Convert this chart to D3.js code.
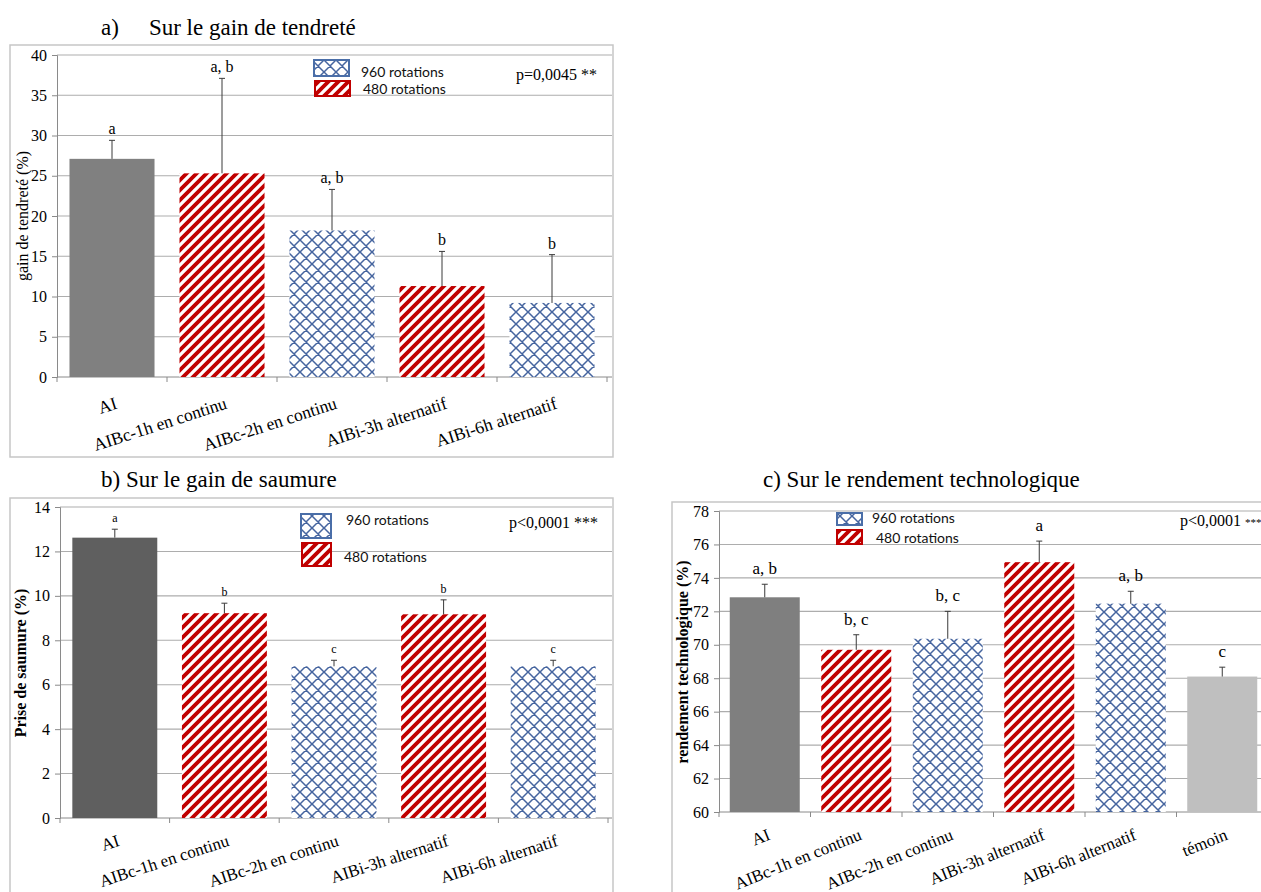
<!DOCTYPE html>
<html><head><meta charset="utf-8">
<script src="https://cdn.jsdelivr.net/npm/d3@7"></script>
<style>body{margin:0;background:#fff}svg{display:block}</style>
</head><body>
<script>
// ---------- DATA ----------
const categories5 = ["AI","AIBc-1h en continu","AIBc-2h en continu","AIBi-3h alternatif","AIBi-6h alternatif"];
const categories6 = ["AI","AIBc-1h en continu","AIBc-2h en continu","AIBi-3h alternatif","AIBi-6h alternatif","témoin"];
const groups5 = ["AI","480","960","480","960"];
const groups6 = ["AI","480","960","480","960","témoin"];
const legendLabels = ["960 rotations","480 rotations"];

// a) gain de tendreté
const tendreteValues = [27.1, 25.3, 18.2, 11.3, 9.2];
const tendreteErrTop = [29.4, 37.1, 23.3, 15.6, 15.2];
const tendreteLetters = ["a","a, b","a, b","b","b"];
const tendreteTicks = [0,5,10,15,20,25,30,35,40];

// b) gain de saumure
const saumureValues = [12.62, 9.22, 6.83, 9.17, 6.83];
const saumureErrTop = [13.0, 9.67, 7.1, 9.82, 7.1];
const saumureLetters = ["a","b","c","b","c"];
const saumureTicks = [0,2,4,6,8,10,12,14];

// c) rendement technologique
const rendementValues = [72.84, 69.7, 70.36, 74.94, 72.46, 68.1];
const rendementErrTop = [73.62, 70.6, 72.0, 76.2, 73.2, 68.66];
const rendementLetters = ["a, b","b, c","b, c","a","a, b","c"];
const rendementTicks = [60,62,64,66,68,70,72,74,76,78];

// ---------- DRAW ----------
const W = 1261, H = 892;
const svg = d3.select("body").append("svg").attr("width", W).attr("height", H);
const serif = "'Liberation Serif','Times New Roman',serif";
const sans = "Lato,'Open Sans',sans-serif";

const defs = svg.append("defs");
const pS = defs.append("pattern").attr("id","stripes").attr("patternUnits","userSpaceOnUse")
  .attr("width",10).attr("height",10);
pS.append("rect").attr("width",10).attr("height",10).attr("fill","#fff");
pS.append("path").attr("d","M-2,2 L2,-2 M0,10 L10,0 M8,12 L12,8")
  .attr("stroke","#c00000").attr("stroke-width",3.8);
const pX = defs.append("pattern").attr("id","cross").attr("patternUnits","userSpaceOnUse")
  .attr("width",12).attr("height",12);
pX.append("rect").attr("width",12).attr("height",12).attr("fill","#fff");
pX.append("path").attr("d","M0,0 L12,12 M12,0 L0,12 M-1,1 L1,-1 M11,13 L13,11 M-1,11 L1,13 M11,-1 L13,1")
  .attr("stroke","#46659f").attr("stroke-width",1.5);

function drawPanel(cfg) {
  const g = svg.append("g");
  g.append("rect").attr("x",cfg.frame[0]).attr("y",cfg.frame[1]).attr("width",cfg.frame[2]).attr("height",cfg.frame[3])
    .attr("fill","none").attr("stroke","#c6c6c6").attr("stroke-width",1.5);
  const t = g.append("text").attr("x",cfg.titlePos[0]).attr("y",cfg.titlePos[1])
    .attr("font-family",serif).attr("font-size",23).attr("fill","#000");
  cfg.title.forEach((s,i)=> t.append("tspan").attr("dx", i? cfg.titleGap : 0).text(s));

  const x = d3.scaleBand().domain(cfg.cats).range([cfg.left, cfg.right]).paddingInner(cfg.pad).paddingOuter(cfg.pad/2);
  const y = d3.scaleLinear().domain(cfg.domain).range([cfg.bottom, cfg.top]);

  g.append("g").selectAll("line").data(cfg.ticks.filter(d=>d!==cfg.domain[0])).join("line")
    .attr("x1",cfg.left).attr("x2",cfg.gridRight).attr("y1",d=>y(d)).attr("y2",d=>y(d))
    .attr("stroke","#adadad").attr("stroke-width",1.1);

  const ya = g.append("g").attr("transform",`translate(${cfg.left},0)`)
    .call(d3.axisLeft(y).tickValues(cfg.ticks).tickSize(5).tickPadding(5).tickFormat(d3.format("d")));
  ya.attr("font-family",serif);
  ya.select(".domain").attr("stroke","#8a8a8a");
  ya.selectAll(".tick line").attr("stroke","#8a8a8a");
  ya.selectAll("text").attr("font-family",serif).attr("font-size",16).attr("fill","#000");

  const xa = g.append("g").attr("transform",`translate(0,${cfg.bottom})`)
    .call(d3.axisBottom(x).tickSize(0).tickFormat(""));
  xa.select(".domain").attr("stroke","#8a8a8a").attr("d",`M${cfg.left},0H${cfg.gridRight}`);
  const step = x.step();
  g.append("g").selectAll("line").data(d3.range(cfg.cats.length+1)).join("line")
    .attr("x1",i=>cfg.left+i*step).attr("x2",i=>cfg.left+i*step)
    .attr("y1",cfg.bottom).attr("y2",cfg.bottom+5).attr("stroke","#8a8a8a");

  const fillFor = (grp)=> grp==="480" ? "url(#stripes)" : grp==="960" ? "url(#cross)" : grp==="AI" ? cfg.aiColor : "#bfbfbf";
  g.append("g").selectAll("rect").data(cfg.values).join("rect")
    .attr("x",(d,i)=>x(cfg.cats[i])).attr("width",x.bandwidth())
    .attr("y",d=>y(d)).attr("height",d=>y(cfg.domain[0])-y(d))
    .attr("fill",(d,i)=>fillFor(cfg.groups[i]));

  const eb = g.append("g").attr("stroke","#3a3a3a").attr("stroke-width",1);
  cfg.errTop.forEach((e,i)=>{
    const cx = x(cfg.cats[i]) + x.bandwidth()/2;
    eb.append("line").attr("x1",cx).attr("x2",cx).attr("y1",y(cfg.values[i])).attr("y2",y(e));
    eb.append("line").attr("x1",cx-3).attr("x2",cx+3).attr("y1",y(e)).attr("y2",y(e));
  });

  g.append("g").selectAll("text").data(cfg.letters).join("text")
    .attr("x",(d,i)=>x(cfg.cats[i]) + x.bandwidth()/2)
    .attr("y",(d,i)=>y(cfg.errTop[i]) - cfg.letterGap)
    .attr("text-anchor","middle").attr("font-family",serif).attr("font-size",cfg.letterSize).text(d=>d);

  g.append("g").selectAll("text").data(cfg.cats).join("text")
    .attr("transform",d=>`translate(${x(d)+x.bandwidth()/2+2},${cfg.bottom+cfg.labelDrop}) rotate(${cfg.angle})`)
    .attr("text-anchor","end").attr("dominant-baseline","hanging")
    .attr("font-family",serif).attr("font-size",cfg.xlabSize).text(d=>d);

  g.append("text").attr("transform",`translate(${cfg.ylabPos[0]},${cfg.ylabPos[1]}) rotate(-90)`)
    .attr("text-anchor","middle").attr("dominant-baseline","middle")
    .attr("font-family",serif).attr("font-size",cfg.ylabSize).attr("font-weight",cfg.ylabWeight).text(cfg.ylab);

  const L = cfg.legend;
  [["url(#cross)","#4a6ea8"],["url(#stripes)","#c00000"]].forEach((p,i)=>{
    const b = L.boxes[i];
    g.append("rect").attr("x",b[0]).attr("y",b[1]).attr("width",b[2]).attr("height",b[3])
      .attr("fill",p[0]).attr("stroke",p[1]).attr("stroke-width",2);
    g.append("text").attr("x",L.texts[i][0]).attr("y",L.texts[i][1])
      .attr("font-family",sans).attr("font-size",14).attr("fill","#111").text(legendLabels[i]);
  });

  const pt = g.append("text").attr("x",cfg.pPos[0]).attr("y",cfg.pPos[1]).attr("font-family",serif).attr("font-size",16);
  pt.append("tspan").text(cfg.pText[0]);
  pt.append("tspan").attr("font-size",cfg.starSize).text(cfg.pText[1]);
}

drawPanel({
  frame:[10,45,603,412], title:["a)","Sur le gain de tendreté"], titlePos:[101,35], titleGap:30,
  cats:categories5, groups:groups5, values:tendreteValues, errTop:tendreteErrTop, letters:tendreteLetters,
  ticks:tendreteTicks, domain:[0,40], left:57, right:607, gridRight:612, top:55, bottom:377, pad:0.227,
  aiColor:"#808080", letterGap:6, letterSize:16, angle:-18, labelDrop:19, xlabSize:17.5,
  ylab:"gain de tendreté (%)", ylabPos:[24,216], ylabSize:16, ylabWeight:"normal",
  legend:{boxes:[[314,60,35,16],[315,81,35,15]], texts:[[361,77],[363,94]]},
  pPos:[516,80], pText:["p=0,0045 ","**"], starSize:16
});
drawPanel({
  frame:[10,498,603,420], title:["b) Sur le gain de saumure"], titlePos:[101,487], titleGap:0,
  cats:categories5, groups:groups5, values:saumureValues, errTop:saumureErrTop, letters:saumureLetters,
  ticks:saumureTicks, domain:[0,14], left:60, right:608, gridRight:612, top:507, bottom:818, pad:0.225,
  aiColor:"#5f5f5f", letterGap:7, letterSize:12, angle:-18, labelDrop:16, xlabSize:17,
  ylab:"Prise de saumure (%)", ylabPos:[22,663], ylabSize:16, ylabWeight:"bold",
  legend:{boxes:[[301,514,30,24],[302,543,29,23]], texts:[[346,525],[344,562]]},
  pPos:[509,528], pText:["p<0,0001 ","***"], starSize:16
});
drawPanel({
  frame:[672,502,640,420], title:["c) Sur le rendement technologique"], titlePos:[763,487], titleGap:0,
  cats:categories6, groups:groups6, values:rendementValues, errTop:rendementErrTop, letters:rendementLetters,
  ticks:rendementTicks, domain:[60,78], left:719, right:1268, gridRight:1275, top:511, bottom:812, pad:0.235,
  aiColor:"#7f7f7f", letterGap:10, letterSize:17, angle:-22, labelDrop:16, xlabSize:17,
  ylab:"rendement technologique (%)", ylabPos:[684,662], ylabSize:16, ylabWeight:"bold",
  legend:{boxes:[[837,513,25,12],[837,530,25,14]], texts:[[872,523],[876,543]]},
  pPos:[1180,526], pText:["p<0,0001 ","***"], starSize:11
});
</script>
</body></html>
